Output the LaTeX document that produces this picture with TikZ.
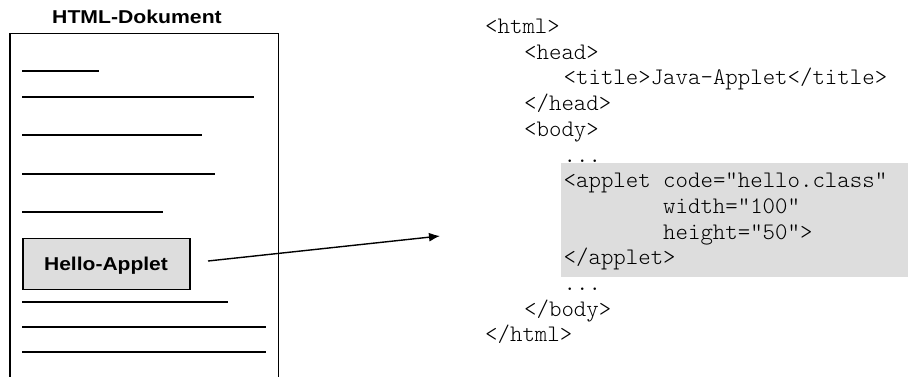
\documentclass[tikz,border=0pt]{standalone}
\usepackage{fontspec}
\setmainfont{Liberation Sans}
\setmonofont{Latin Modern Mono Light}
\usetikzlibrary{arrows.meta}
\definecolor{boxgray}{HTML}{DDDDDD}
\tikzset{
  pageline/.style={line width=1.6pt},
  label/.style={inner sep=0pt, font=\fontsize{18.6}{22}\selectfont\bfseries},
  code/.style={inner sep=0pt, anchor=base west, font=\fontsize{23.7}{25}\selectfont\ttfamily},
  link/.style={line width=1.4pt, -{Latex[length=11pt,width=9pt]}}
}
\begin{document}
\begin{tikzpicture}[x=1pt,y=-1pt]
\useasboundingbox (0,0) rectangle (908,376);
\clip (0,0) rectangle (908,376);

% document sheet
\node[label, anchor=base] (title) at (137,23.3) {\scalebox{1.14}[1]{HTML-Dokument}};
\draw[pageline] (10,390) -- (10,33.3) -- (278.3,33.3) -- (278.3,390);

% text lines on the sheet
\foreach \y/\x in {71/99, 97/254, 135/202, 174/215, 212/163, 302/228, 327/266, 352/266}
  \draw[pageline] (22,\y) -- (\x,\y);

% embedded applet
\node[draw, line width=1.4pt, fill=boxgray, inner sep=0pt,
      minimum width=167pt, minimum height=51pt] (applet) at (106.3,263.8) {};
\node[label, anchor=base] (appletlabel) at (106,270) {\scalebox{1.13}[1]{Hello-Applet}};

% highlighted applet tag in the source
\fill[boxgray] (560.7,163.3) rectangle (910,276.7);

% HTML source
\def\lh{25.7}
\node[code] (l0)  at (485,33.5)          {<html>};
\node[code] (l1)  at (524,33.5+1*\lh)    {<head>};
\node[code] (l2)  at (563.5,33.5+2*\lh)  {<title>Java-Applet</title>};
\node[code] (l3)  at (524,33.5+3*\lh)    {</head>};
\node[code] (l4)  at (524,33.5+4*\lh)    {<body>};
\node[code] (l5)  at (563.5,33.5+5*\lh)  {...};
\node[code] (l6)  at (563.5,33.5+6*\lh)  {<applet code="hello.class"};
\node[code] (l7)  at (663,33.5+7*\lh)    {width="100"};
\node[code] (l8)  at (663,33.5+8*\lh)    {height="50">};
\node[code] (l9)  at (563.5,33.5+9*\lh)  {</applet>};
\node[code] (l10) at (563.5,33.5+10*\lh) {...};
\node[code] (l11) at (524,33.5+11*\lh)   {</body>};
\node[code] (l12) at (485,33.5+12*\lh)   {</html>};

% connector from the applet to its tag
\coordinate (from) at (208,261);
\coordinate (to) at (440,236);
\draw[link] (from) -- (to);
\end{tikzpicture}
\end{document}
